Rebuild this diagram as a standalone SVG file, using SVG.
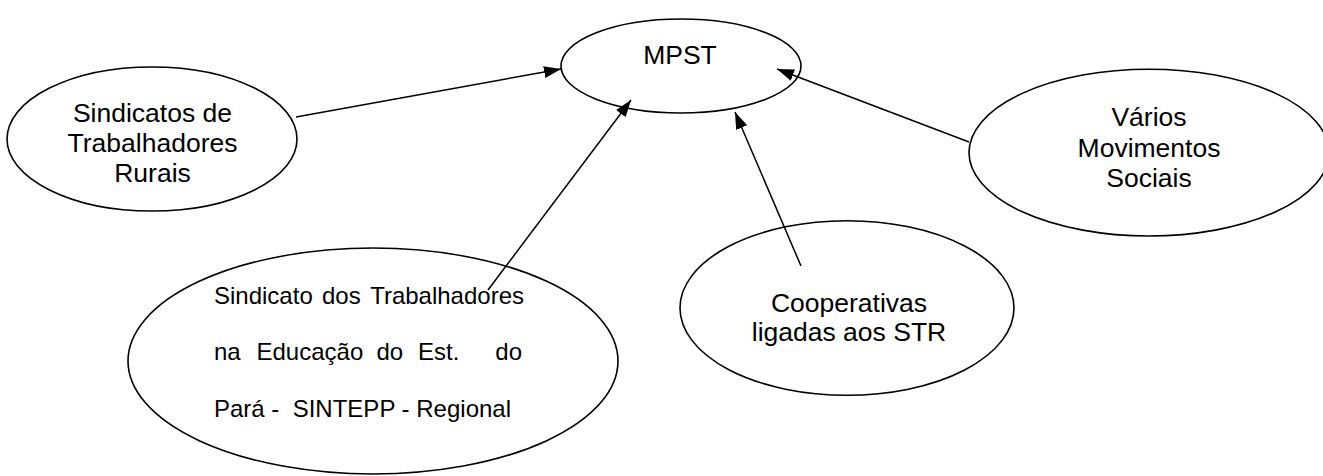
<svg xmlns="http://www.w3.org/2000/svg" width="1323" height="476" viewBox="0 0 1323 476">
  <style>
    .node { fill: #ffffff; stroke: #000000; stroke-width: 1.6; }
    .lbl { font-family: "Liberation Sans", Arial, sans-serif; font-size: 26.5px; fill: #000000; text-anchor: middle; }
    .body { font-family: "Liberation Sans", Arial, sans-serif; font-size: 24px; fill: #000000; }
    .link { stroke: #000000; stroke-width: 1.5; fill: none; marker-end: url(#arrow); }
  </style>
  <defs>
    <marker id="arrow" markerUnits="userSpaceOnUse" markerWidth="18" markerHeight="12" refX="17" refY="6" orient="auto">
      <path d="M0,0 L17,6 L0,12 Z" fill="#000000"/>
    </marker>
  </defs>
  <rect width="1323" height="476" fill="#ffffff"/>

  <!-- central node -->
  <g id="mpst">
    <ellipse class="node" cx="681" cy="66" rx="120" ry="47"/>
    <text class="lbl" x="680" y="64">MPST</text>
  </g>

  <g id="sindicatos-rurais">
    <ellipse class="node" cx="152" cy="139" rx="145" ry="72"/>
    <text class="lbl" x="152.5" y="122">Sindicatos de</text>
    <text class="lbl" x="152.5" y="152">Trabalhadores</text>
    <text class="lbl" x="152.5" y="182">Rurais</text>
  </g>

  <g id="movimentos-sociais">
    <ellipse class="node" cx="1149" cy="152.6" rx="180" ry="83.4"/>
    <text class="lbl" x="1149" y="126">Vários</text>
    <text class="lbl" x="1149" y="156.7">Movimentos</text>
    <text class="lbl" x="1149" y="187.3">Sociais</text>
  </g>

  <g id="cooperativas">
    <ellipse class="node" cx="847" cy="308" rx="167" ry="87.3"/>
    <text class="lbl" x="849" y="311.7">Cooperativas</text>
    <text class="lbl" x="849" y="340.7">ligadas aos STR</text>
  </g>

  <g id="sintepp">
    <ellipse class="node" cx="373" cy="361" rx="245" ry="113"/>
    <text class="body" x="214" y="304">Sindicato</text>
    <text class="body" x="322" y="304">dos</text>
    <text class="body" x="524" y="304" text-anchor="end">Trabalhadores</text>
    <text class="body" x="214" y="360">na</text>
    <text class="body" x="256.5" y="360">Educação</text>
    <text class="body" x="376.5" y="360">do</text>
    <text class="body" x="418" y="360">Est.</text>
    <text class="body" x="522" y="360" text-anchor="end">do</text>
    <text class="body" x="214" y="416.7" xml:space="preserve">Pará -  SINTEPP - Regional</text>
  </g>

  <!-- connectors, drawn over the nodes -->
  <g id="connectors">
    <line class="link" x1="296" y1="117" x2="561" y2="69"/>
    <line class="link" x1="488" y1="290" x2="631" y2="100"/>
    <line class="link" x1="801" y1="266" x2="735" y2="112"/>
    <line class="link" x1="969" y1="142" x2="777" y2="69"/>
  </g>
</svg>
